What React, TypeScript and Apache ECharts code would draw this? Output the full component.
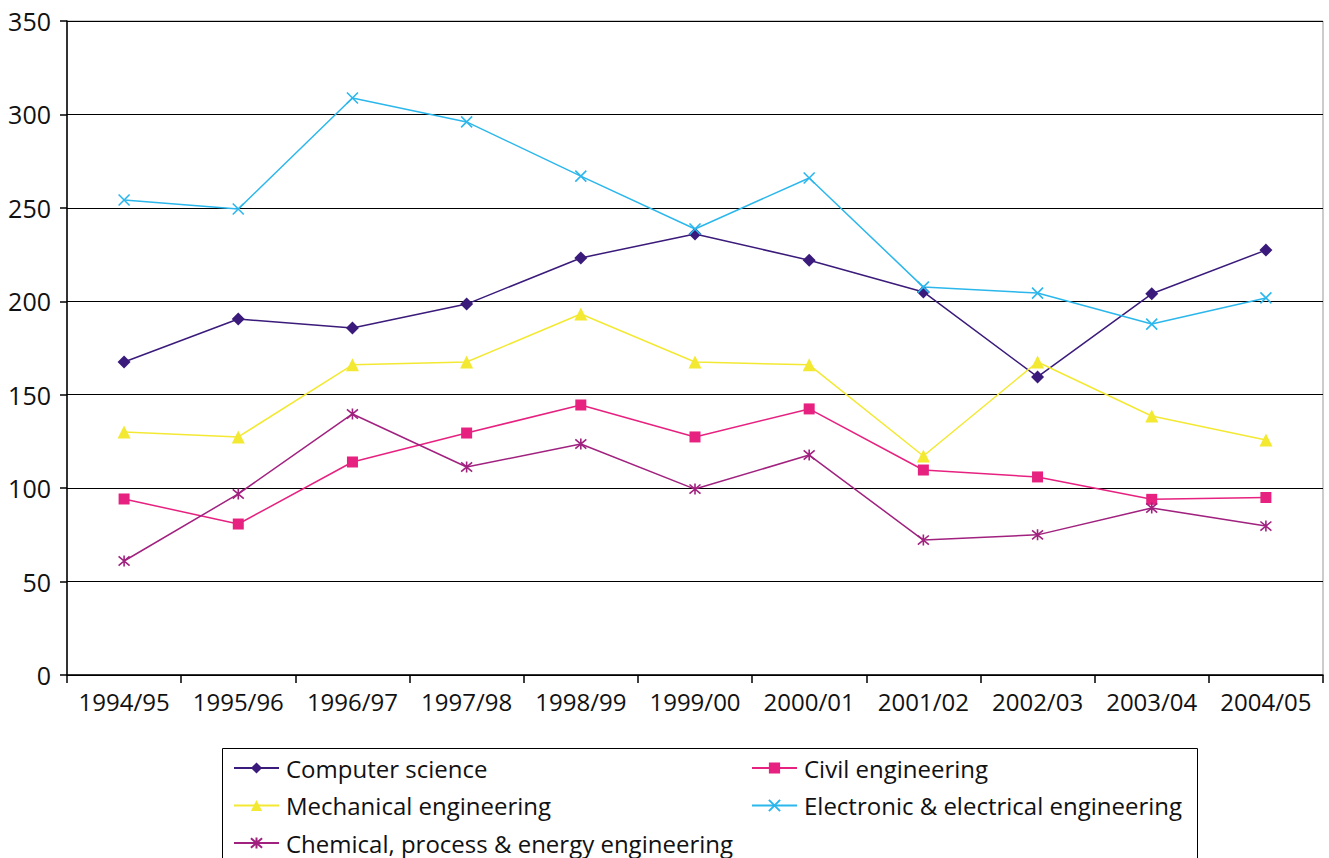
import React, { useEffect, useRef } from "react";
import * as echarts from "echarts";

const categories = ["1994/95", "1995/96", "1996/97", "1997/98", "1998/99", "1999/00", "2000/01", "2001/02", "2002/03", "2003/04", "2004/05"];
const computerScience = [167.5, 190.5, 185.7, 198.5, 223.2, 236, 222, 205, 159.5, 204, 227.4];
const civilEngineering = [94.2, 80.8, 114, 129.5, 144.5, 127.4, 142.4, 109.7, 106, 94, 95];
const mechanicalEngineering = [130, 127.4, 166, 167.5, 193.2, 167.5, 166, 117.2, 167.5, 138.6, 125.8];
const electronicEngineering = [254.2, 249.4, 308.8, 296, 267, 238.7, 266, 207.6, 204.4, 187.8, 201.8];
const chemicalEngineering = [61, 96.9, 139.7, 111.3, 123.6, 99.5, 117.7, 72.2, 75, 89.4, 79.7];
const yTicks = [0, 50, 100, 150, 200, 250, 300, 350];

const FONT = "'Open Sans', 'Noto Sans', sans-serif";

export default function App() {
  const ref = useRef<HTMLDivElement>(null);
  useEffect(() => {
    if (!ref.current) return;
    const chart = echarts.init(ref.current, null, { renderer: "svg" });
    const mk = (name: string, data: number[], color: string, symbol: string, size: number, stroke = false) => ({
      name,
      type: "line",
      data,
      symbol,
      symbolSize: size,
      lineStyle: { color, width: 1.5 },
      itemStyle: stroke ? { color, borderColor: color, borderWidth: 1.6 } : { color },
    });
    const xPath = "path://M0,0L10,10M10,0L0,10";
    const astPath = "path://M0,0L10,10M10,0L0,10M5,-1L5,11";
    const legendText = { fontSize: 24, fontFamily: FONT, color: "#111", padding: [0, 0, 0, 2], lineHeight: 28 };
    const legendBase = {
      orient: "vertical",
      top: 754,
      height: 200,
      padding: 0,
      itemWidth: 45,
      itemHeight: 14,
      itemGap: 9.5,
      align: "left",
      textStyle: legendText,
    };
    chart.setOption({
      animation: false,
      grid: { left: 67, right: 6, top: 21, bottom: 183, show: true, borderColor: "#999", borderWidth: 1 },
      xAxis: {
        type: "category",
        data: categories,
        boundaryGap: true,
        axisLine: { lineStyle: { color: "#000", width: 1.5 } },
        axisTick: { show: true, length: 8, interval: 0, lineStyle: { color: "#000", width: 1.5 } },
        axisLabel: { color: "#111", fontSize: 24, fontFamily: FONT, margin: 14, interval: 0 },
        splitLine: { show: false },
      },
      yAxis: {
        type: "value",
        min: 0,
        max: 350,
        interval: 50,
        axisLine: { show: true, lineStyle: { color: "#000", width: 1.5 } },
        axisTick: { show: true, length: 7, lineStyle: { color: "#000", width: 1.5 } },
        axisLabel: { color: "#111", fontSize: 25, fontFamily: FONT, margin: 16, formatter: (v: number) => (yTicks.includes(v) ? String(v) : "") },
        splitLine: { show: true, lineStyle: { color: "#000", width: 1.2 } },
      },
      legend: [
        { ...legendBase, left: 233, data: ["Computer science", "Mechanical engineering", "Chemical, process & energy engineering"] },
        { ...legendBase, left: 751, data: ["Civil engineering", "Electronic & electrical engineering"] },
      ],
      graphic: [
        {
          type: "rect",
          shape: { x: 222.5, y: 748.5, width: 975, height: 130 },
          style: { fill: "none", stroke: "#000", lineWidth: 1 },
          silent: true,
        },
      ],
      series: [
        mk("Computer science", computerScience, "#3a1a7a", "diamond", 13),
        mk("Civil engineering", civilEngineering, "#e6217f", "rect", 11),
        mk("Mechanical engineering", mechanicalEngineering, "#f3e933", "triangle", 13),
        mk("Electronic & electrical engineering", electronicEngineering, "#2bb7ec", xPath, 11, true),
        mk("Chemical, process & energy engineering", chemicalEngineering, "#a1217f", astPath, 11, true),
      ],
    });
    return () => chart.dispose();
  }, []);
  return <div ref={ref} style={{ width: 1329, height: 858, position: "absolute", left: 0, top: 0, background: "#fff" }} />;
}
